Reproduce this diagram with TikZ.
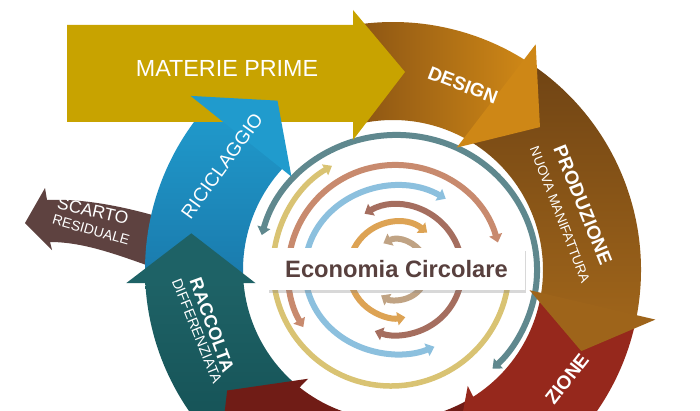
\documentclass[tikz,border=0pt]{standalone}
\usepackage{fontspec}
\setmainfont{Liberation Sans}
\usetikzlibrary{arrows.meta,shadows}
\definecolor{cGold}{RGB}{200,163,0}
\definecolor{cDesignA}{RGB}{140,85,20}
\definecolor{cDesignB}{RGB}{206,135,22}
\definecolor{cProdA}{RGB}{112,68,20}
\definecolor{cProdB}{RGB}{158,100,26}
\definecolor{cRed}{RGB}{150,40,28}
\definecolor{cMaroon}{RGB}{112,28,22}
\definecolor{cTealA}{RGB}{30,98,102}
\definecolor{cTealB}{RGB}{20,80,84}
\definecolor{cBlueA}{RGB}{32,155,205}
\definecolor{cBlueB}{RGB}{26,122,172}
\definecolor{cScarto}{RGB}{94,66,64}
\definecolor{aTeal}{RGB}{95,136,142}
\definecolor{aYellow}{RGB}{217,195,115}
\definecolor{aSalmon}{RGB}{200,138,110}
\definecolor{aBlue}{RGB}{140,192,222}
\definecolor{aBrown}{RGB}{165,110,95}
\definecolor{aOrange}{RGB}{221,163,84}
\definecolor{aTan}{RGB}{192,163,132}
\definecolor{cEco}{RGB}{88,64,62}
\newcommand\RingBody[5]{%
  \path[#1] (#2:248pt) arc[start angle=#2, end angle=#4, radius=248pt]
    -- (#5:150pt) arc[start angle=#5, end angle=#3, radius=150pt] -- cycle;}
\newcommand\RingHead[4]{%
  \path[#1] (#2:267pt) -- (#4:205pt) -- (#3:138pt) -- cycle;}
\begin{document}
\begin{tikzpicture}[x=1pt,y=1pt,
  lbl/.style={text=white, inner sep=0pt},
  arcline/.style={line width=6pt},
  dbl/.style={arrows={Triangle[width=13pt,length=8pt]-Triangle[width=13pt,length=8pt]}},
  sgl/.style={arrows={-Triangle[width=12pt,length=8pt]}},
  fbig/.style={font=\fontsize{23.3}{24}\selectfont},
  fbold/.style={font=\fontsize{19}{19}\selectfont\bfseries},
  fboldS/.style={font=\fontsize{18}{18}\selectfont\bfseries},
  fmid/.style={font=\fontsize{19}{19}\selectfont},
  fsmall/.style={font=\fontsize{13.5}{14}\selectfont},
  fsmallB/.style={font=\fontsize{14.5}{15}\selectfont},
  ecobox/.style={fill=white, minimum width=257pt, minimum height=42pt, inner sep=0pt,
    text=cEco, font=\fontsize{23.7}{24}\selectfont\bfseries,
    drop shadow={shadow xshift=0.5pt, shadow yshift=-2.5pt, opacity=0.3}}]
\useasboundingbox (0,0) rectangle (700,410);
\fill[white] (0,0) rectangle (700,410);

% scarto residuale arrow
\fill[cScarto] (25,187) -- (45,222) -- (47,210) .. controls (90,212) and (140,200) .. (185,185)
  -- (175,135) .. controls (130,150) and (90,168) .. (50,168) -- (52,160) -- cycle;

% ring bodies
\begin{scope}[shift={(393,140)}]
  \RingBody{left color=cDesignA, right color=cDesignB}{98}{104}{57.7}{61.35}
  \RingBody{top color=cProdA, bottom color=cProdB}{56.5}{60.5}{-11.06}{-9.31}
  \RingBody{fill=cRed}{-12}{-9.9}{-60.46}{-58.18}
  \RingBody{fill=cMaroon}{-61.5}{-58.8}{-131.26}{-128.98}
  \RingBody{top color=cTealA, bottom color=cTealB}{227.5}{230.4}{182.5}{184.55}
  \RingBody{top color=cBlueA, bottom color=cBlueB}{181.5}{184}{138.3}{136.9}
\end{scope}

% concentric arcs
\begin{scope}[shift={(397,140)}]
  \draw[arcline, aTeal, dbl] (165:140pt and 135pt) arc[start angle=165, end angle=-47, x radius=140pt, y radius=135pt];
  \draw[arcline, aBlue, dbl] (58:92pt and 84pt) arc[start angle=58, end angle=294, x radius=92pt, y radius=84pt];
  \draw[arcline, aBrown, dbl] (120:65pt) arc[start angle=120, end angle=-110, radius=65pt];
  \draw[arcline, aOrange, dbl] (51:48pt) arc[start angle=51, end angle=280, radius=48pt];
  \draw[arcline, aTan, dbl] (117:30pt) arc[start angle=117, end angle=-122, radius=30pt];
\end{scope}
\begin{scope}[shift={(391,142)}]
  \draw[line width=5.5pt, aYellow, sgl] (-5:118pt) arc[start angle=-5, end angle=-240, radius=118pt];
\end{scope}
\begin{scope}[shift={(395,138)}]
  \draw[arcline, aSalmon, dbl] (16:107pt) arc[start angle=16, end angle=211, radius=107pt];
\end{scope}

% materie prime arrow
\fill[cGold] (67,288) -- (67,385) -- (353,385) -- (353,400) -- (405,338) -- (353,270) -- (353,288) -- cycle;

% ring heads
\begin{scope}[shift={(393,140)}]
  \RingHead{fill=cDesignB}{57.7}{62.5}{44.2}
  \RingHead{fill=cProdB}{-10.7}{-8.4}{-23.3}
  \RingHead{fill=cRed}{-60.2}{-57.2}{-73}
  \RingHead{fill=cMaroon}{-131}{-128}{-144}
  \RingHead{fill=cTealA}{182.8}{185.5}{169.7}
  \RingHead{fill=cBlueA}{139.3}{137.4}{124.3}
\end{scope}

% central label
\node[ecobox] (eco) at (396.5,141) {Economia Circolare};

% labels
\node[lbl, fbig] (tMaterie) at (227,342) {MATERIE PRIME};
\node[lbl, fbold, rotate=-21] (tDesign) at (463,325) {DESIGN};
\node[lbl, fbold, rotate=-68] (tProd) at (583,205) {PRODUZIONE};
\node[lbl, fsmall, rotate=-69] (tNuova) at (560,195) {NUOVA MANIFATTURA};
\node[lbl, fbold, rotate=52] (tZione) at (567,31) {ZIONE};
\node[lbl, fboldS, rotate=-70] (tRaccolta) at (212,85) {RACCOLTA};
\node[lbl, fsmallB, rotate=-68] (tDiff) at (197,79) {DIFFERENZIATA};
\node[lbl, fmid, rotate=54] (tRicicl) at (222,244) {RICICLAGGIO};
\node[lbl, font=\fontsize{17.5}{18}\selectfont, rotate=-13] (tScarto) at (93,199) {SCARTO};
\node[lbl, font=\fontsize{14}{14}\selectfont, rotate=-16] (tResid) at (91,180) {RESIDUALE};
\end{tikzpicture}
\end{document}
